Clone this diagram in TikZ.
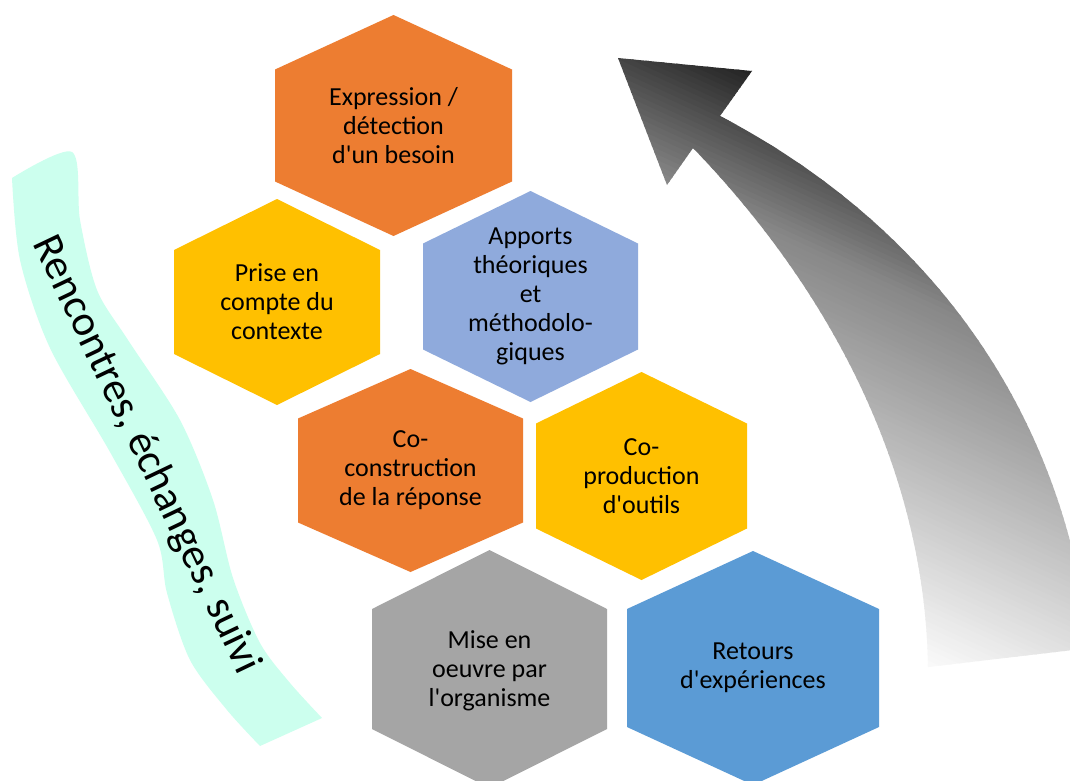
\documentclass[tikz,border=0pt]{standalone}
\usepackage{fontspec}
\newfontfamily\carl{Carlito}
\definecolor{hexorange}{HTML}{ED7D31}
\definecolor{hexyellow}{HTML}{FFC000}
\definecolor{hexlav}{HTML}{8FAADC}
\definecolor{hexgray}{HTML}{A5A5A5}
\definecolor{hexblue}{HTML}{5B9BD5}
\definecolor{bandmint}{HTML}{CCFFEE}
% cx cy halfwidth shoulder-half vertex-half colour
\newcommand\hexfill[6]{%
  \fill[#6] ({#1-#3},{#2-#4}) -- (#1,{#2-#5}) -- ({#1+#3},{#2-#4}) --
    ({#1+#3},{#2+#4}) -- (#1,{#2+#5}) -- ({#1-#3},{#2+#4}) -- cycle;}
\begin{document}
\begin{tikzpicture}[x=1pt,y=-1pt,
  hexlabel/.style={align=center, font=\carl\fontsize{26}{29}\selectfont, text=black, inner sep=0pt},
  bandlabel/.style={font=\carl\fontsize{43}{50}\selectfont, text=black, inner sep=0pt}]
\useasboundingbox (0,0) rectangle (1070,781);
\clip (0,0) rectangle (1070,781);
\fill[white] (0,0) rectangle (1070,781);

% wavy band
\fill[bandmint] plot[smooth] coordinates {(12,178) (72,152) (80,220) (97,290) (128,340) (180,420) (213,500) (233,578) (260,643) (290,683) (322,718)}
  -- plot[smooth] coordinates {(260,746) (227,710) (190,660) (167,593) (157,540) (110,452) (50,348) (20,260) (12,178)} -- cycle;
\node[bandlabel, rotate=-64.5] (band) at (146,455) {Rencontres, échanges, suivi};

% curved gradient arrow
\begin{scope}
\clip (618,58) -- (752,71) -- (720,116) .. controls (900,210) and (1060,380) .. (1090,648)
  -- (928,667) .. controls (925,470) and (830,290) .. (693,148) -- (667,185) -- cycle;
\foreach \k in {0,...,104} {
  \pgfmathsetmacro\da{-250+5*\k}
  \pgfmathsetmacro\db{\da+6}
  \pgfmathsetmacro\pc{min(87,max(2,ifthenelse((\da)<112,2+((\da)+217)*0.1368,47+((\da)-112)*0.2878)))}
  \fill[black!\pc] ({0.42*(\da)+0.91*400},{-0.91*(\da)+0.42*400})
    -- ({0.42*(\db)+0.91*400},{-0.91*(\db)+0.42*400})
    -- ({0.42*(\db)+0.91*1400},{-0.91*(\db)+0.42*1400})
    -- ({0.42*(\da)+0.91*1400},{-0.91*(\da)+0.42*1400}) -- cycle;
}
\end{scope}

% hexagons
\hexfill{393.5}{125.5}{118.5}{56}{110.5}{hexorange}
\hexfill{277}{302}{103}{52}{103}{hexyellow}
\hexfill{530.5}{296.5}{107.5}{53}{105.5}{hexlav}
\hexfill{410.5}{470.5}{112.5}{52}{101.5}{hexorange}
\hexfill{641.5}{476}{105.5}{52.5}{104}{hexyellow}
\hexfill{489.5}{669}{117.5}{60}{119}{hexgray}
\hexfill{753}{668}{126}{59}{117}{hexblue}

\node[hexlabel] (expr) at (393.5,125.5) {Expression /\\détection\\d'un besoin};
\node[hexlabel] (prise) at (277,302) {Prise en\\compte du\\contexte};
\node[hexlabel] (apports) at (530.5,296.5) {Apports\\théoriques\\et\\méthodolo-\\giques};
\node[hexlabel] (coconst) at (410.5,470.5) {Co-\\construction\\de la réponse};
\node[hexlabel] (coprod) at (641.5,476) {Co-\\production\\d'outils};
\node[hexlabel] (mise) at (489.5,671) {Mise en\\oeuvre par\\l'organisme};
\node[hexlabel] (retours) at (753,668) {Retours\\d'expériences};
\end{tikzpicture}
\end{document}
